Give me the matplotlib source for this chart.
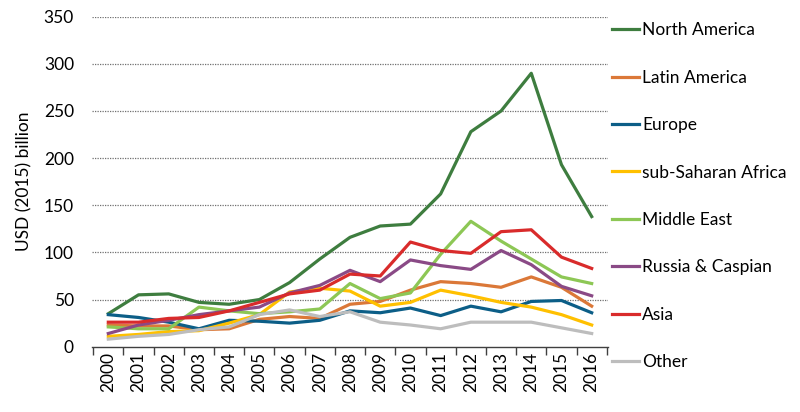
import matplotlib.pyplot as plt
import numpy as np

plt.rcParams['font.family'] = ['Lato', 'DejaVu Sans']

years = list(range(2000, 2017))
regions = ["North America", "Latin America", "Europe", "sub-Saharan Africa",
           "Middle East", "Russia & Caspian", "Asia", "Other"]

north_america = [35, 55, 56, 47, 45, 50, 68, 93, 116, 128, 130, 162, 228, 250, 290, 193, 138]
latin_america = [23, 22, 22, 18, 19, 29, 32, 30, 45, 48, 60, 69, 67, 63, 74, 63, 43]
europe = [34, 31, 26, 19, 28, 27, 25, 28, 38, 36, 41, 33, 43, 37, 48, 49, 36]
ssa = [11, 13, 16, 17, 25, 34, 58, 62, 59, 43, 47, 60, 54, 47, 42, 34, 23]
middle_east = [21, 19, 19, 42, 38, 35, 37, 40, 67, 51, 57, 98, 133, 112, 93, 74, 67]
russia = [14, 23, 28, 34, 38, 42, 57, 65, 81, 69, 92, 86, 82, 102, 87, 64, 54]
asia = [26, 26, 30, 31, 38, 47, 56, 60, 77, 75, 111, 102, 99, 122, 124, 95, 83]
other = [8, 11, 13, 18, 21, 34, 39, 32, 37, 26, 23, 19, 26, 26, 26, 20, 14]

series = [north_america, latin_america, europe, ssa, middle_east, russia, asia, other]
colors = ["#3E7D3F", "#DB7838", "#0C5E87", "#FFC000", "#8DC755", "#8A4A86", "#D92B2B", "#BDBDBD"]

fig = plt.figure(figsize=(8, 4.12), dpi=100)
ax = fig.add_axes([0.115, 0.1585, 0.645, 0.801])

x = np.arange(len(years))
for vals, c, lab in zip(series, colors, regions):
    ax.plot(x, vals, color=c, linewidth=2.3, label=lab)

ax.set_xlim(-0.54, len(years) - 0.46)
ax.set_ylim(0, 350)
ax.set_yticks(range(0, 351, 50))
for v in range(50, 351, 50):
    ax.axhline(v, color="#707070", linewidth=0.9, linestyle=(0, (1, 1)), zorder=0)

ax.set_xticks(x)
ax.set_xticklabels([str(y) for y in years], rotation=90, fontsize=12.5)
ax.set_xticks(np.arange(-0.5, len(years), 1), minor=True)
ax.tick_params(axis='x', which='major', length=0, pad=4)
ax.tick_params(axis='x', which='minor', length=6, width=1, color="#404040")
ax.tick_params(axis='y', length=0, labelsize=12.5, pad=13)

for s in ["top", "right", "left"]:
    ax.spines[s].set_visible(False)
ax.spines["bottom"].set_color("#404040")
ax.spines["bottom"].set_linewidth(1)

ax.set_ylabel("USD (2015) billion", fontsize=12.5, labelpad=8)

leg = ax.legend(loc="upper left", bbox_to_anchor=(0.985, 1.02), frameon=False,
                fontsize=12.5, handlelength=1.55, handletextpad=0.15,
                labelspacing=1.81, borderaxespad=0.3)

fig.savefig("out.png", dpi=100)
